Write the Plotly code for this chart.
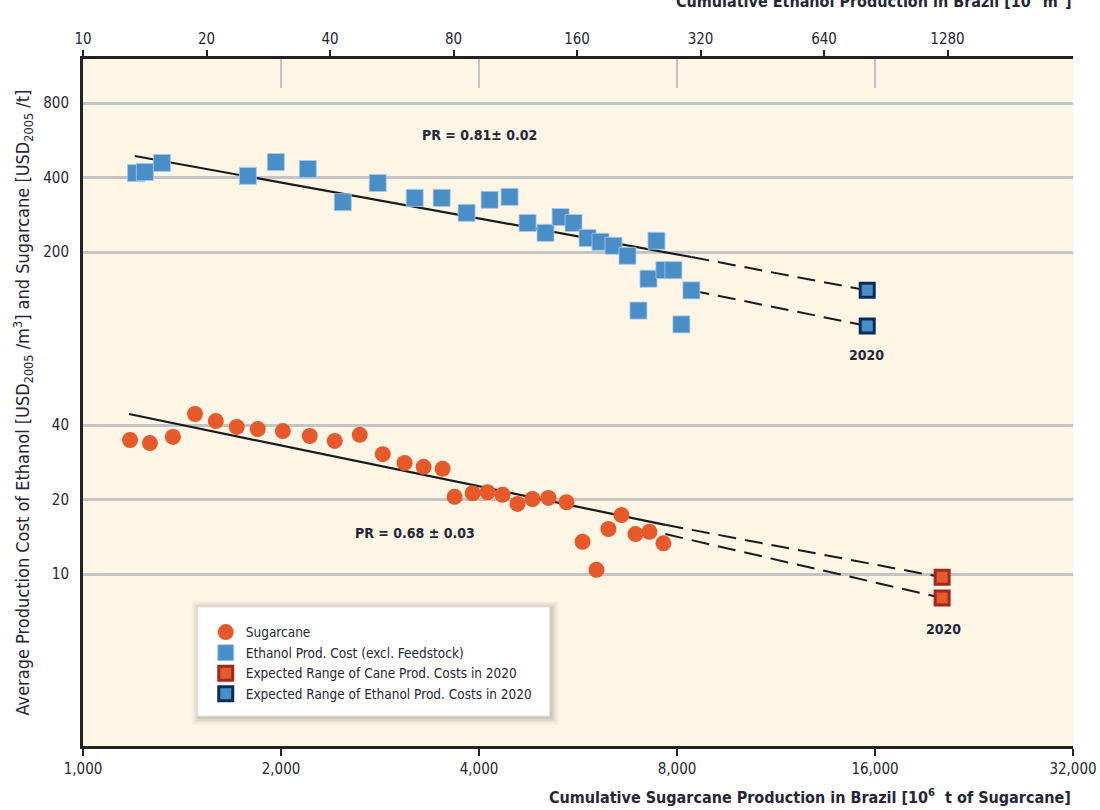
import plotly.graph_objects as go

# ---------------- data ----------------
cane_x = [1179, 1264, 1370, 1480, 1592, 1713, 1844, 2013, 2212, 2414, 2635, 2856,
          3083, 3295, 3522, 3673, 3912, 4122, 4344, 4578, 4825, 5102, 5434, 5747,
          6035, 6293, 6586, 6917, 7264, 7628]
cane_y = [34.8, 33.8, 35.8, 44.3, 41.5, 39.3, 38.5, 37.8, 36.1, 34.5, 36.5, 30.5,
          28.1, 27.1, 26.6, 20.5, 21.2, 21.4, 20.9, 19.2, 20.1, 20.3, 19.5, 13.5,
          10.4, 15.2, 17.3, 14.5, 14.8, 13.3]

eth_x = [1204, 1242, 1318, 1781, 1964, 2197, 2483, 2806, 3194, 3510, 3830, 4151,
         4452, 4741, 5049, 5322, 5569, 5849, 6121, 6405, 6727, 6990, 7240, 7445,
         7655, 7900, 8124, 8414]
eth_y = [417, 421, 458, 406, 462, 433, 318, 380, 331, 331, 288, 325,
         334, 262, 239, 277, 262, 228, 220, 212, 193, 116, 156, 222,
         169, 169, 102, 140]

cane_2020_x = [20240, 20240]
cane_2020_y = [9.7, 8.0]
eth_2020_x = [15570, 15570]
eth_2020_y = [140, 100.5]

# experience-curve fits
eth_fit_x = [1199, 8414]
eth_fit_y = [488.7, 190.9]
eth_ext_hi_x = [8414, 15570]
eth_ext_hi_y = [190.9, 140]
eth_ext_lo_x = [8414, 15570]
eth_ext_lo_y = [140, 100.5]

cane_fit_x = [1175, 7680]
cane_fit_y = [44.3, 15.8]
cane_ext_hi_x = [7680, 20240]
cane_ext_hi_y = [15.8, 9.7]
cane_ext_lo_x = [7680, 20240]
cane_ext_lo_y = [14.5, 8.0]

x_ticks = [1000, 2000, 4000, 8000, 16000, 32000]
x_ticklabels = ["1,000", "2,000", "4,000", "8,000", "16,000", "32,000"]
top_ticks = [10, 20, 40, 80, 160, 320, 640, 1280]
y_ticks = [10, 20, 40, 200, 400, 800]

# ---------------- style ----------------
FONT = "DejaVu Sans Condensed, Liberation Sans Narrow, Roboto, sans-serif"
TXT = "#262637"
ORANGE = "#E5592A"
BLUE = "#4A8EC8"
LINE = "#1a1a1a"
DASH = "18px,9px"

fig = go.Figure()

# fit lines
fig.add_trace(go.Scatter(x=eth_fit_x, y=eth_fit_y, mode="lines",
                         line=dict(color=LINE, width=2.2), showlegend=False, hoverinfo="skip"))
for xs, ys in [(eth_ext_hi_x, eth_ext_hi_y), (eth_ext_lo_x, eth_ext_lo_y),
               (cane_ext_hi_x, cane_ext_hi_y), (cane_ext_lo_x, cane_ext_lo_y)]:
    fig.add_trace(go.Scatter(x=xs, y=ys, mode="lines",
                             line=dict(color=LINE, width=2, dash=DASH),
                             showlegend=False, hoverinfo="skip"))
fig.add_trace(go.Scatter(x=cane_fit_x, y=cane_fit_y, mode="lines",
                         line=dict(color=LINE, width=2.2), showlegend=False, hoverinfo="skip"))

# data points
fig.add_trace(go.Scatter(x=cane_x, y=cane_y, mode="markers", name="Sugarcane",
                         marker=dict(symbol="circle", size=16, color=ORANGE,
                                     line=dict(width=0))))
fig.add_trace(go.Scatter(x=eth_x, y=eth_y, mode="markers", name="Ethanol Prod. Cost (excl. Feedstock)",
                         marker=dict(symbol="square", size=17, color=BLUE,
                                     line=dict(width=0.8, color="#a9c9e6"))))
fig.add_trace(go.Scatter(x=cane_2020_x, y=cane_2020_y, mode="markers",
                         name="Expected Range of Cane Prod. Costs in 2020",
                         marker=dict(symbol="square", size=14, color=ORANGE,
                                     line=dict(width=3, color="#A3281C"))))
fig.add_trace(go.Scatter(x=eth_2020_x, y=eth_2020_y, mode="markers",
                         name="Expected Range of Ethanol Prod. Costs in 2020",
                         marker=dict(symbol="square", size=14, color=BLUE,
                                     line=dict(width=3, color="#0D2C55"))))

# empty traces to bring the extra x axes to life
fig.add_trace(go.Scatter(x=[], y=[], xaxis="x2", showlegend=False, hoverinfo="skip"))
fig.add_trace(go.Scatter(x=[], y=[], xaxis="x3", showlegend=False, hoverinfo="skip"))

tickfont = dict(family=FONT, size=15, color=TXT)

fig.update_layout(
    width=1100, height=810,
    margin=dict(l=83, r=27, t=59, b=64),
    paper_bgcolor="white",
    plot_bgcolor="#FDF5E6",
    font=dict(family=FONT, color=TXT),
    xaxis=dict(type="log", range=[3, 4.50515], tickvals=x_ticks, ticktext=x_ticklabels,
               ticks="outside", ticklen=7, tickwidth=2, tickcolor="#222",
               showline=True, linecolor="#222", linewidth=3, automargin=False,
               showgrid=False, zeroline=False, tickfont=tickfont),
    xaxis2=dict(type="log", range=[1, 3.413], overlaying="x", side="top", anchor="y",
                tickvals=top_ticks, ticktext=[str(v) for v in top_ticks],
                ticks="outside", ticklen=6, tickwidth=2, tickcolor="#222",
                showline=True, linecolor="#222", linewidth=3, automargin=False,
                showgrid=False, zeroline=False, tickfont=tickfont),
    xaxis3=dict(type="log", range=[3, 4.50515], overlaying="x", side="top", anchor="y",
                tickvals=x_ticks[1:-1], showticklabels=False, automargin=False,
                ticks="inside", ticklen=29, tickwidth=2, tickcolor="#c4c4c4",
                showline=False, showgrid=False, zeroline=False),
    yaxis=dict(type="log", range=[0.305, 3.081], tickvals=y_ticks,
               ticktext=[str(v) for v in y_ticks], automargin=False,
               ticks="", showline=True, linecolor="#222", linewidth=3,
               showgrid=True, gridcolor="#c4c4c4", gridwidth=2.5, zeroline=False,
               tickfont=tickfont, ticklabelstandoff=8,
               title=dict(text="Average Production Cost of Ethanol [USD<sub>2005</sub> /m<sup>3</sup>] and Sugarcane [USD<sub>2005</sub> /t]",
                          font=dict(family=FONT, size=18, color=TXT), standoff=9)),
    legend=dict(x=0.124, y=0.188, xanchor="left", yanchor="top",
                bgcolor="rgba(0,0,0,0)", borderwidth=0,
                font=dict(family=FONT, size=13.5, color=TXT),
                tracegroupgap=0, itemsizing="trace"),
    showlegend=True,
)

# legend box with a soft shadow
LX0, LX1, LY0, LY1 = 0.116, 0.471, 0.0437, 0.2023
for d, op in [(9, 0.05), (7, 0.07), (5, 0.09), (3, 0.12)]:
    fig.add_shape(type="rect", xref="paper", yref="paper", layer="above",
                  x0=LX0 - (d - 3) / 990, x1=LX1 + d / 990,
                  y0=LY0 - d / 687, y1=LY1 + (d - 3) / 687,
                  line=dict(width=0), fillcolor="#6b5f50", opacity=op)
fig.add_shape(type="rect", xref="paper", yref="paper", layer="above",
              x0=LX0, x1=LX1, y0=LY0, y1=LY1,
              line=dict(width=1, color="#e6e6e6"), fillcolor="white")

annos = [
    dict(x=0.401, y=0.889, text="<b>PR = 0.81± 0.02</b>"),
    dict(x=0.335, y=0.310, text="<b>PR = 0.68 ± 0.03</b>"),
    dict(x=0.791, y=0.569, text="<b>2020</b>"),
    dict(x=0.869, y=0.170, text="<b>2020</b>"),
]
for a in annos:
    fig.add_annotation(x=a["x"], y=a["y"], xref="paper", yref="paper", text=a["text"],
                       xanchor="center", yanchor="middle",
                       showarrow=False, font=dict(family=FONT, size=14, color=TXT))

fig.add_annotation(x=1.0, y=-0.074, xref="paper", yref="paper", xanchor="right", yanchor="middle",
                   text="<b>Cumulative Sugarcane Production in Brazil [10<sup>6</sup>  t of Sugarcane]</b>",
                   showarrow=False, font=dict(family=FONT, size=16, color=TXT))
fig.add_annotation(x=1.0, y=1.0855, xref="paper", yref="paper", xanchor="right", yanchor="middle",
                   text="<b>Cumulative Ethanol Production in Brazil [10<sup>6</sup> m<sup>3</sup>]</b>",
                   showarrow=False, font=dict(family=FONT, size=16, color=TXT))

fig.write_html("out.html", config={"displayModeBar": False},
               post_script="document.body.style.margin='0';")
